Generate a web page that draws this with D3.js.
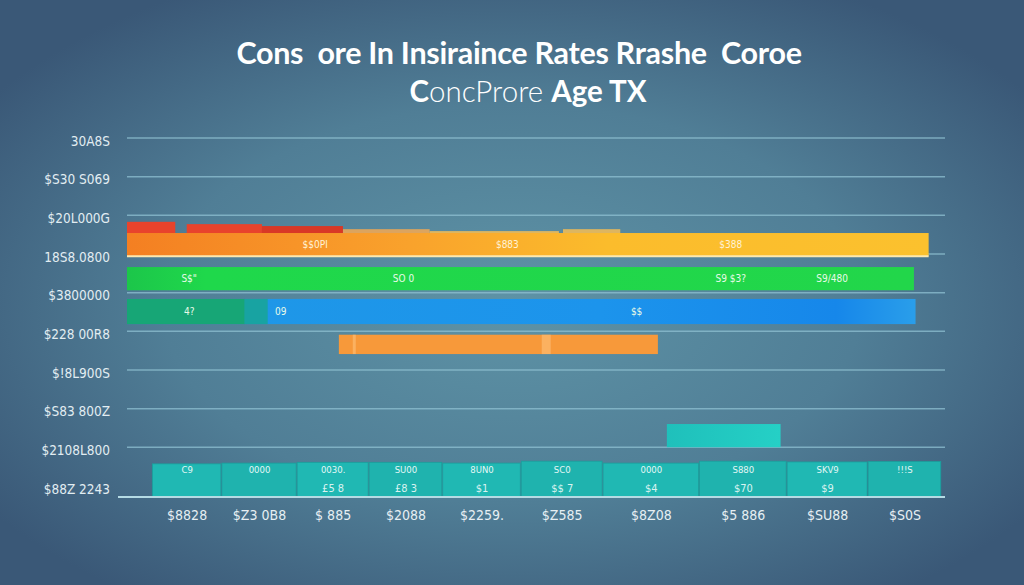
<!DOCTYPE html>
<html>
<head>
<meta charset="utf-8">
<script src="https://cdn.jsdelivr.net/npm/d3@7"></script>
<style>
  html, body { margin: 0; padding: 0; background: #3d5c78; overflow: hidden; }
  svg { display: block; }
  text { white-space: pre; }
</style>
</head>
<body>
<div id="vis"></div>
<script>
// page dims
var width = 1024;
var height = 585;

// Title lines (second line split into bold / regular runs)
var title1 = "Cons  ore In Insiraince Rates Rrashe  Coroe";
var title2Parts = ["C", "oncProre ", "Age TX"];
var title2Bold = [true, false, true];

// Y axis tick labels (top to bottom)
var yLabels = ["30A8S", "$S30 S069", "$20L000G", "18S8.0800", "$3800000",
               "$228 00R8", "$!8L900S", "$S83 800Z", "$2108L800", "$88Z 2243"];

// X axis tick labels
var xLabels = ["$8828", "$Z3 0B8", "$ 885", "$2088", "$2259.", "$Z585", "$8Z08", "$5 886", "$SU88", "$S0S"];

// Horizontal range bars: row position (in tick units), thickness, start, end
var barNames = ["orange", "green", "blue", "orange2", "teal"];
var barRows = [2.68, 3.56, 4.41, 5.26, 7.62];
var barHeights = [0.6, 0.6, 0.65, 0.5, 0.6];
var barStart = [0, 0, 0, 25.9, 66.0];
var barEnd = [98.0, 96.2, 96.4, 64.9, 79.9];

// extra segments inside the blue bar
var blueSegStart = [0, 14.4];
var blueSegEnd = [14.4, 17.2];

// caps on top of the orange bar
var capStart = [0, 7.3, 16.5, 26.4, 37.0, 53.3];
var capEnd = [5.9, 16.5, 26.4, 37.0, 52.8, 60.3];
var capTop = [2.09, 2.15, 2.2, 2.28, 2.33, 2.28];

// text inside bars
var barText = [
  ["$$0Pl", "$883", "$388"],
  ["S$\"", "SO 0", "S9 $3?", "S9/480"],
  ["4?", "09", "$$"]
];
var barTextAt = [
  [23.0, 46.5, 73.8],
  [7.6, 33.8, 73.8, 86.2],
  [7.6, 18.8, 62.3]
];

// bottom columns
var colStart = [3.1, 11.6, 20.8, 29.6, 38.6, 48.2, 58.2, 70.0, 80.7, 90.6];
var colEnd = [11.6, 20.8, 29.6, 38.6, 48.2, 58.2, 70.0, 80.7, 90.6, 99.6];
var colTop = [8.35, 8.33, 8.31, 8.31, 8.33, 8.28, 8.33, 8.28, 8.3, 8.29];
var colText1 = ["C9", "0000", "0030.", "SU00", "8UN0", "SC0", "0000", "S880", "SKV9", "!!!S"];
var colText2 = ["", "", "£5 8", "£8 3", "$1", "$$ 7", "$4", "$70", "$9", ""];

var svg = d3.select("#vis").append("svg").attr("width", width).attr("height", height);
var defs = svg.append("defs");

// background gradient
var bg = defs.append("radialGradient").attr("id", "bg")
    .attr("cx", "50%").attr("cy", "52%").attr("r", "62%");
bg.append("stop").attr("offset", "0%").attr("stop-color", "#5e93a6");
bg.append("stop").attr("offset", "55%").attr("stop-color", "#507e96");
bg.append("stop").attr("offset", "100%").attr("stop-color", "#3a5877");
svg.append("rect").attr("width", width).attr("height", height).attr("fill", "url(#bg)");

function linGrad(id, stops) {
    var g = defs.append("linearGradient").attr("id", id);
    stops.forEach(function(s) {
        g.append("stop").attr("offset", s[0]).attr("stop-color", s[1]);
    });
}
linGrad("gOrange", [["0%", "#f47f22"], ["35%", "#f9a22c"], ["60%", "#fbbc2c"], ["100%", "#fbc12e"]]);
linGrad("gGreen", [["0%", "#1cc64a"], ["10%", "#1fd84b"], ["100%", "#22d64a"]]);
linGrad("gBlue", [["0%", "#1f98e6"], ["60%", "#1c94ec"], ["90%", "#1687ea"], ["100%", "#2a9eea"]]);
linGrad("gTeal", [["0%", "#1fc0bb"], ["100%", "#25d0c6"]]);

// scales
var x = d3.scaleLinear().domain([0, 100]).range([127, 945]);
var y = d3.scaleLinear().domain([0, 9]).range([141, 489]);

// title
svg.append("text")
    .attr("x", 519).attr("y", 64)
    .attr("text-anchor", "middle")
    .attr("fill", "#ffffff")
    .attr("font-family", "Lato, 'Open Sans', sans-serif")
    .attr("font-weight", 700)
    .attr("font-size", 30.5)
    .attr("letter-spacing", -0.3)
    .text(title1);

var t2 = svg.append("text")
    .attr("x", 528).attr("y", 102)
    .attr("text-anchor", "middle")
    .attr("fill", "#ffffff")
    .attr("font-family", "Lato, 'Open Sans', sans-serif")
    .attr("font-size", 29.5);
t2.selectAll("tspan").data(title2Parts).enter()
    .append("tspan")
    .attr("font-weight", function(d, i) { return title2Bold[i] ? 700 : 300; })
    .text(function(d) { return d; });

// gridlines
svg.selectAll("line.grid").data(yLabels.slice(0, 9)).enter()
    .append("line").attr("class", "grid")
    .attr("x1", x(0)).attr("x2", x(100))
    .attr("y1", function(d, i) { return y(i) - 3; })
    .attr("y2", function(d, i) { return y(i) - 3; })
    .attr("stroke", "#8fc0d2").attr("stroke-opacity", 0.75).attr("stroke-width", 1.5);

// y labels
svg.selectAll("text.ylab").data(yLabels).enter()
    .append("text").attr("class", "ylab")
    .attr("x", 110)
    .attr("y", function(d, i) { return y(i); })
    .attr("dy", "0.35em")
    .attr("text-anchor", "end")
    .attr("fill", "#e2edf2")
    .attr("font-family", "'DejaVu Sans Condensed', 'Liberation Sans Narrow', sans-serif")
    .attr("font-stretch", "condensed")
    .attr("font-size", 13.5)
    .text(function(d) { return d; });

// caps above orange bar
svg.selectAll("rect.cap").data(capStart).enter()
    .append("rect").attr("class", "cap")
    .attr("x", function(d) { return x(d); })
    .attr("width", function(d, i) { return x(capEnd[i]) - x(d); })
    .attr("y", function(d, i) { return y(capTop[i]); })
    .attr("height", function(d, i) { return y(barRows[0] - barHeights[0] / 2) - y(capTop[i]) + 1; })
    .attr("fill", function(d, i) { return i < 3 ? (i == 2 ? "#d93826" : "#e8432c") : (i == 3 ? "#f3a954" : "#f4bd55"); })
    .attr("opacity", function(d, i) { return i < 3 ? 1 : 0.85; });

// range bars
var fills = ["url(#gOrange)", "url(#gGreen)", "url(#gBlue)", "#f7993a", "url(#gTeal)"];
svg.selectAll("rect.bar").data(barNames).enter()
    .append("rect").attr("class", "bar")
    .attr("x", function(d, i) { return x(barStart[i]); })
    .attr("width", function(d, i) { return x(barEnd[i]) - x(barStart[i]); })
    .attr("y", function(d, i) { return y(barRows[i] - barHeights[i] / 2); })
    .attr("height", function(d, i) { return y(barHeights[i]) - y(0); })
    .attr("fill", function(d, i) { return fills[i]; });

// bright edge under the orange bar
svg.append("line")
    .attr("x1", x(barStart[0])).attr("x2", x(barEnd[0]))
    .attr("y1", y(barRows[0] + barHeights[0] / 2)).attr("y2", y(barRows[0] + barHeights[0] / 2))
    .attr("stroke", "#fde9b0").attr("stroke-width", 2);

// left segments of the blue bar
svg.selectAll("rect.bseg").data(blueSegStart).enter()
    .append("rect").attr("class", "bseg")
    .attr("x", function(d) { return x(d); })
    .attr("width", function(d, i) { return x(blueSegEnd[i]) - x(d); })
    .attr("y", y(barRows[2] - barHeights[2] / 2))
    .attr("height", y(barHeights[2]) - y(0))
    .attr("fill", function(d, i) { return i == 0 ? "#17a676" : "#18a3a2"; });

// light stripes on the lower orange bar
svg.selectAll("rect.stripe").data([27.6, 50.7]).enter()
    .append("rect").attr("class", "stripe")
    .attr("x", function(d) { return x(d); })
    .attr("width", function(d, i) { return i == 0 ? 3 : 9; })
    .attr("y", y(barRows[3] - barHeights[3] / 2))
    .attr("height", y(barHeights[3]) - y(0))
    .attr("fill", "#fbb76a").attr("opacity", 0.8);

// text inside bars
barText.forEach(function(list, b) {
    svg.selectAll("text.bt" + b).data(list).enter()
        .append("text").attr("class", "bt" + b)
        .attr("x", function(d, i) { return x(barTextAt[b][i]); })
        .attr("y", y(barRows[b]))
        .attr("dy", "0.35em")
        .attr("text-anchor", "middle")
        .attr("fill", b == 0 ? "#fff3d6" : "#e8fbe8")
        .attr("font-family", "'DejaVu Sans Condensed', sans-serif")
        .attr("font-stretch", "condensed")
        .attr("font-size", 10)
        .text(function(d) { return d; });
});

// bottom columns
var baseY = 497;
svg.selectAll("rect.col").data(colStart).enter()
    .append("rect").attr("class", "col")
    .attr("x", function(d) { return x(d); })
    .attr("width", function(d, i) { return x(colEnd[i]) - x(d) - 1; })
    .attr("y", function(d, i) { return y(colTop[i]); })
    .attr("height", function(d, i) { return baseY - y(colTop[i]); })
    .attr("fill", function(d, i) { return i % 2 == 0 ? "#20b8b3" : "#1fb3ae"; })
    .attr("stroke", "#1a9e9c").attr("stroke-width", 0.8);

svg.selectAll("text.c1").data(colText1).enter()
    .append("text").attr("class", "c1")
    .attr("x", function(d, i) { return (x(colStart[i]) + x(colEnd[i])) / 2; })
    .attr("y", 470)
    .attr("dy", "0.35em")
    .attr("text-anchor", "middle")
    .attr("fill", "#e4f7f6")
    .attr("font-family", "'DejaVu Sans Condensed', sans-serif")
    .attr("font-stretch", "condensed")
    .attr("font-size", 9.5)
    .text(function(d) { return d; });

svg.selectAll("text.c2").data(colText2).enter()
    .append("text").attr("class", "c2")
    .attr("x", function(d, i) { return (x(colStart[i]) + x(colEnd[i])) / 2; })
    .attr("y", 488)
    .attr("dy", "0.35em")
    .attr("text-anchor", "middle")
    .attr("fill", "#d9f3f1")
    .attr("font-family", "'DejaVu Sans Condensed', sans-serif")
    .attr("font-stretch", "condensed")
    .attr("font-size", 11)
    .text(function(d) { return d; });

// baseline
svg.append("line")
    .attr("x1", 118).attr("x2", x(100))
    .attr("y1", baseY).attr("y2", baseY)
    .attr("stroke", "#b5dbe4").attr("stroke-width", 2);

// x labels
svg.selectAll("text.xlab").data(xLabels).enter()
    .append("text").attr("class", "xlab")
    .attr("x", function(d, i) { return (x(colStart[i]) + x(colEnd[i])) / 2; })
    .attr("y", 515)
    .attr("dy", "0.35em")
    .attr("text-anchor", "middle")
    .attr("fill", "#e6eff3")
    .attr("font-family", "'DejaVu Sans Condensed', 'Liberation Sans Narrow', sans-serif")
    .attr("font-stretch", "condensed")
    .attr("font-size", 14)
    .text(function(d) { return d; });
</script>
</body>
</html>
